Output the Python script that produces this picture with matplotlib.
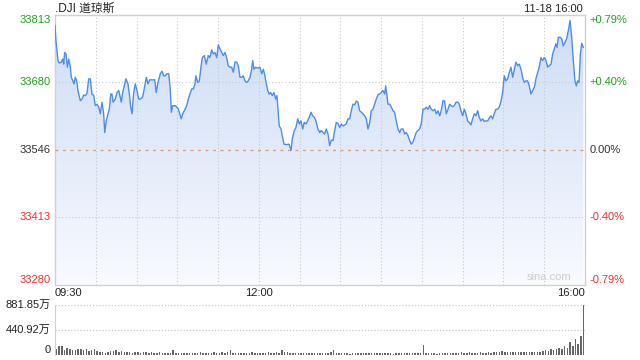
import matplotlib
matplotlib.use("Agg")
import matplotlib.pyplot as plt
import matplotlib.transforms as mtransforms
from matplotlib.colors import LinearSegmentedColormap
import numpy as np


# minutes since 09:30 and index level
minutes = [
    0, 0.7, 2.2, 3.2, 4.6, 5.7, 6.4, 7.1, 8.1, 9.1,
    10.1, 11.3, 12.0, 13.2, 14.0, 14.9, 16.0, 16.9, 18.6, 19.9,
    21.1, 22.3, 23.5, 24.8, 26.0, 27.2, 28.5, 29.7, 30.9, 32.2,
    33.3, 34.6, 35.8, 36.6, 37.7, 39.0, 40.0, 41.0, 41.9, 42.7,
    44.4, 45.6, 46.9, 48.0, 48.8, 49.8, 51.3, 52.2, 53.7, 54.7,
    55.7, 56.7, 57.9, 59.1, 60.3, 61.6, 62.8, 64.5, 66.0, 67.2,
    68.4, 69.7, 71.4, 73.4, 74.5, 75.8, 77.5, 78.7, 80.0, 81.2,
    82.4, 83.7, 84.8, 85.6, 86.6, 88.5, 90.5, 91.5, 92.9, 94.0,
    95.7, 96.9, 98.1, 99.3, 100.6, 101.8, 103.0, 103.7, 105.0, 106.2,
    107.4, 108.4, 109.9, 111.3, 112.8, 114.0, 115.3, 116.5, 117.7, 119.0,
    120.2, 121.4, 122.7, 123.8, 125.1, 126.3, 127.5, 128.8, 130.0, 131.2,
    132.4, 133.7, 134.9, 136.1, 137.4, 138.5, 139.8, 141.1, 142.2, 143.5,
    144.7, 145.5, 146.4, 147.7, 149.1, 150.8, 152.1, 153.3, 154.5, 155.3,
    156.5, 157.5, 158.7, 159.9, 161.1, 162.4, 163.3, 164.3, 165.0, 166.3,
    167.2, 168.5, 170.5, 172.2, 173.7, 174.6, 176.1, 177.3, 178.6, 179.8,
    181.0, 182.3, 183.4, 184.7, 185.9, 187.1, 188.4, 189.6, 190.8, 192.0,
    193.5, 194.8, 195.9, 197.2, 198.4, 199.6, 200.9, 202.1, 203.3, 204.6,
    205.8, 207.0, 208.2, 209.5, 210.7, 211.9, 213.2, 214.3, 215.6, 216.8,
    218.0, 219.3, 220.5, 221.7, 222.9, 224.2, 225.4, 226.6, 227.9, 229.1,
    230.3, 231.6, 232.7, 234.0, 235.2, 236.4, 237.7, 238.9, 240.1, 241.3,
    242.6, 243.3, 244.3, 245.0, 246.3, 247.5, 248.7, 249.9, 251.1, 252.4,
    253.6, 254.8, 256.1, 257.3, 258.5, 259.7, 261.0, 262.2, 263.4, 264.7,
    265.8, 267.1, 268.3, 269.5, 270.8, 272.0, 273.2, 274.5, 275.7, 276.9,
    278.1, 279.4, 280.6, 281.8, 283.1, 284.2, 285.5, 286.7, 287.9, 289.2, 290.4,
    291.4, 292.6, 293.8, 295.1, 296.3, 297.5, 298.7, 300.0, 301.2, 302.4,
    303.6, 304.8, 306.1, 307.3, 308.5, 309.8, 311.0, 312.2, 313.4, 314.7,
    315.9, 317.1, 318.4, 319.6, 320.8, 322.0, 323.2, 324.5, 325.7, 326.9,
    328.2, 329.4, 330.6, 331.8, 333.1, 334.3, 335.5, 336.8, 338.0, 339.2,
    340.4, 341.6, 342.9, 344.1, 345.3, 346.6, 347.8, 349.0, 350.2, 351.5,
    352.7, 353.9, 355.2, 356.3, 357.6, 358.8, 360.0, 361.3, 362.5, 363.7,
    365.0, 366.2, 367.4, 368.6, 369.4, 370.4, 371.8, 372.8, 374.0, 375.3,
    376.5, 377.7, 379.0, 380.2, 381.4, 382.6, 383.6, 384.6, 385.6, 386.6, 387.6, 388.8,
]

prices = [
    33791, 33761, 33722, 33717, 33719, 33725, 33715, 33738, 33735, 33709,
    33725, 33709, 33689, 33682, 33676, 33689, 33682, 33663, 33643, 33646,
    33654, 33653, 33657, 33686, 33686, 33656, 33653, 33633, 33636, 33630,
    33617, 33640, 33617, 33580, 33603, 33617, 33626, 33656, 33656, 33640,
    33646, 33659, 33663, 33650, 33640, 33659, 33676, 33686, 33676, 33656,
    33630, 33617, 33659, 33676, 33663, 33646, 33646, 33650, 33672, 33689,
    33676, 33684, 33684, 33684, 33659, 33679, 33696, 33701, 33692, 33692,
    33696, 33696, 33666, 33620, 33633, 33633, 33628, 33620, 33607, 33617,
    33626, 33633, 33646, 33656, 33666, 33666, 33676, 33692, 33679, 33682,
    33709, 33728, 33732, 33715, 33732, 33728, 33743, 33735, 33738, 33728,
    33753, 33745, 33738, 33732, 33738, 33728, 33712, 33709, 33709, 33699,
    33719, 33719, 33712, 33689, 33689, 33692, 33682, 33679, 33682, 33689,
    33705, 33722, 33705, 33709, 33707, 33709, 33696, 33705, 33692, 33679,
    33663, 33656, 33659, 33653, 33659, 33646, 33653, 33617, 33593, 33587,
    33574, 33557, 33556, 33557, 33545, 33567, 33584, 33590, 33607, 33597,
    33603, 33587, 33600, 33597, 33603, 33610, 33620, 33613, 33610, 33603,
    33587, 33580, 33584, 33580, 33577, 33587, 33577, 33554, 33565, 33564,
    33584, 33600, 33598, 33590, 33597, 33593, 33595, 33597, 33607, 33607,
    33623, 33636, 33635, 33642, 33640, 33623, 33620, 33617, 33613, 33607,
    33587, 33600, 33623, 33626, 33636, 33646, 33655, 33656, 33659, 33663,
    33656, 33672, 33653, 33636, 33636, 33630, 33623, 33620, 33603, 33587,
    33580, 33587, 33587, 33577, 33580, 33574, 33564, 33557, 33561, 33571,
    33580, 33584, 33587, 33597, 33626, 33626, 33630, 33626, 33633, 33626,
    33623, 33626, 33617, 33623, 33613, 33623, 33643, 33642, 33617, 33626, 33636,
    33633, 33631, 33633, 33640, 33640, 33636, 33623, 33613, 33626, 33617,
    33603, 33600, 33595, 33607, 33617, 33613, 33623, 33610, 33603, 33607,
    33602, 33603, 33603, 33609, 33613, 33607, 33617, 33626, 33626, 33630,
    33642, 33659, 33692, 33682, 33686, 33699, 33709, 33689, 33705, 33719,
    33712, 33715, 33705, 33689, 33679, 33682, 33682, 33672, 33656, 33663,
    33669, 33686, 33699, 33709, 33728, 33722, 33728, 33722, 33709, 33712,
    33715, 33735, 33745, 33755, 33748, 33768, 33768, 33765, 33751, 33758,
    33765, 33781, 33801, 33768, 33722, 33682, 33672, 33682, 33679, 33735, 33756, 33748,
]

# volume per 2 minutes, in 万
volume = [
    110, 150, 160, 90, 130, 100, 80, 90, 100, 100, 80, 100, 70, 90, 100,
    70, 60, 50, 40, 60, 70, 70, 90, 60, 70, 60, 50, 60, 40, 50,
    50, 40, 60, 50, 40, 50, 40, 40, 50, 40, 30, 40, 40, 90, 40,
    30, 40, 30, 40, 30, 40, 40, 30, 50, 40, 30, 40, 40, 50, 40,
    40, 50, 40, 60, 95, 40, 30, 40, 30, 40, 30, 40, 50, 40, 30,
    40, 30, 40, 50, 40, 40, 50, 40, 90, 60, 50, 40, 40, 30, 40,
    30, 40, 30, 40, 30, 40, 30, 40, 30, 30, 40, 50, 80, 40, 30,
    30, 40, 30, 20, 30, 40, 30, 40, 30, 30, 40, 30, 40, 40, 30,
    40, 30, 40, 30, 20, 30, 40, 30, 40, 30, 30, 40, 30, 40, 30,
    180, 40, 30, 40, 30, 20, 30, 40, 30, 40, 30, 40, 30, 40, 50,
    30, 40, 50, 40, 30, 40, 50, 40, 40, 50, 40, 50, 60, 50, 70,
    60, 50, 60, 50, 60, 50, 60, 50, 60, 50, 60, 60, 50, 60, 70,
    90, 70, 110, 90, 100, 120, 110, 150, 130, 230, 160, 280, 200, 330, 881.85,
]

left_ticks = [33813, 33680, 33546, 33413, 33280]
left_labels = ["33813", "33680", "33546", "33413", "33280"]
right_labels = ["+0.79%", "+0.40%", "0.00%", "-0.40%", "-0.79%"]
tick_colors = ["#1ea01e", "#1ea01e", "#333333", "#f03030", "#f03030"]
time_ticks = [0, 150, 390]
time_labels = ["09:30", "12:00", "16:00"]
vol_ticks = [881.85, 440.92, 0]
vol_labels = ["881.85万", "440.92万", "0"]

FONT = ["Liberation Sans", "Noto Sans CJK SC", "DejaVu Sans"]
plt.rcParams["font.family"] = FONT

W, H = 640, 360
fig = plt.figure(figsize=(6.4, 3.6), dpi=100)
ax = fig.add_axes([55 / W, 1 - 284.5 / H, 530 / W, 270 / H])
vax = fig.add_axes([55 / W, 5 / H, 530 / W, 50 / H])

lo, hi = left_ticks[-1], left_ticks[0]

# gradient fill under the line
cmap = LinearSegmentedColormap.from_list("fill", ["#f8fafe", "#cddcf6"])
grad = np.linspace(0, 1, 256).reshape(-1, 1)
im = ax.imshow(grad, extent=[0, 390, lo, hi], origin="lower", aspect="auto",
               cmap=cmap, zorder=1)
poly = ax.fill_between(minutes, prices, lo, color="none", lw=0)
im.set_clip_path(poly.get_paths()[0], transform=ax.transData)

ax.plot(minutes, prices, color="#4c8ee8", lw=1.0, zorder=4)

# grid
for m in range(30, 390, 30):
    ax.axvline(m, color="#c8c8c8", lw=0.8, ls=(0, (1, 2)), zorder=2)
for v in [left_ticks[1], left_ticks[3]]:
    ax.axhline(v, color="#c8c8c8", lw=0.8, ls=(0, (1, 2)), zorder=2)
ax.axhline(left_ticks[2], color="#d99a7c", lw=0.9, ls=(0, (2.4, 3.6)), zorder=3)

ax.set_xlim(0, 390)
ax.set_ylim(lo, hi)
ax.set_xticks([])
ax.set_yticks([])
for s in ax.spines.values():
    s.set_color("#d0d0d0")
    s.set_linewidth(1.0)

trans = mtransforms.blended_transform_factory(ax.transAxes, ax.transData)
for i, v in enumerate(left_ticks):
    va = "top" if i == 0 else ("bottom" if i == len(left_ticks) - 1 else "center")
    ax.text(-0.008, v, left_labels[i], transform=trans, ha="right", va=va,
            color=tick_colors[i], fontsize=8)
    ax.text(1.009, v, right_labels[i], transform=trans, ha="left", va=va,
            color=tick_colors[i], fontsize=8)

ttrans = mtransforms.blended_transform_factory(ax.transData, fig.transFigure)
for t, lab, ha in zip(time_ticks, time_labels, ["left", "center", "right"]):
    ax.text(t, 1 - 293.5 / H, lab, transform=ttrans, ha=ha, va="center",
            color="#222222", fontsize=8)

ax.text(0, 1 - 8.5 / H, ".DJI 道琼斯", transform=ttrans, ha="left", va="center",
        color="#222222", fontsize=8.5)
ax.text(388, 1 - 8.5 / H, "11-18 16:00", transform=ttrans, ha="right",
        va="center", color="#222222", fontsize=8)
ax.text(0.975, 0.01, "sina.com", transform=ax.transAxes, ha="right",
        va="bottom", color="#cccccc", fontsize=8, zorder=5)

# volume panel
vx = [2 * i + 1 for i in range(len(volume))]
vax.bar(vx, volume, width=1.1, color="#666666", lw=0)
vax.set_xlim(0, 390)
vax.set_ylim(0, vol_ticks[0])
for v in vol_ticks[:2]:
    vax.axhline(v, color="#c8c8c8", lw=0.9, ls=(0, (1, 1.5)), zorder=0)
vax.set_xticks([])
vax.set_yticks([])
for k in ["top", "right", "bottom"]:
    vax.spines[k].set_visible(False)
vax.spines["left"].set_color("#d0d0d0")

vtrans = mtransforms.blended_transform_factory(vax.transAxes, vax.transData)
for v, lab in zip(vol_ticks, vol_labels):
    vax.text(-0.008, v, lab, transform=vtrans, ha="right",
             va="bottom" if v == 0 else "center", color="#222222", fontsize=8)

fig.savefig("out.png", dpi=100)
